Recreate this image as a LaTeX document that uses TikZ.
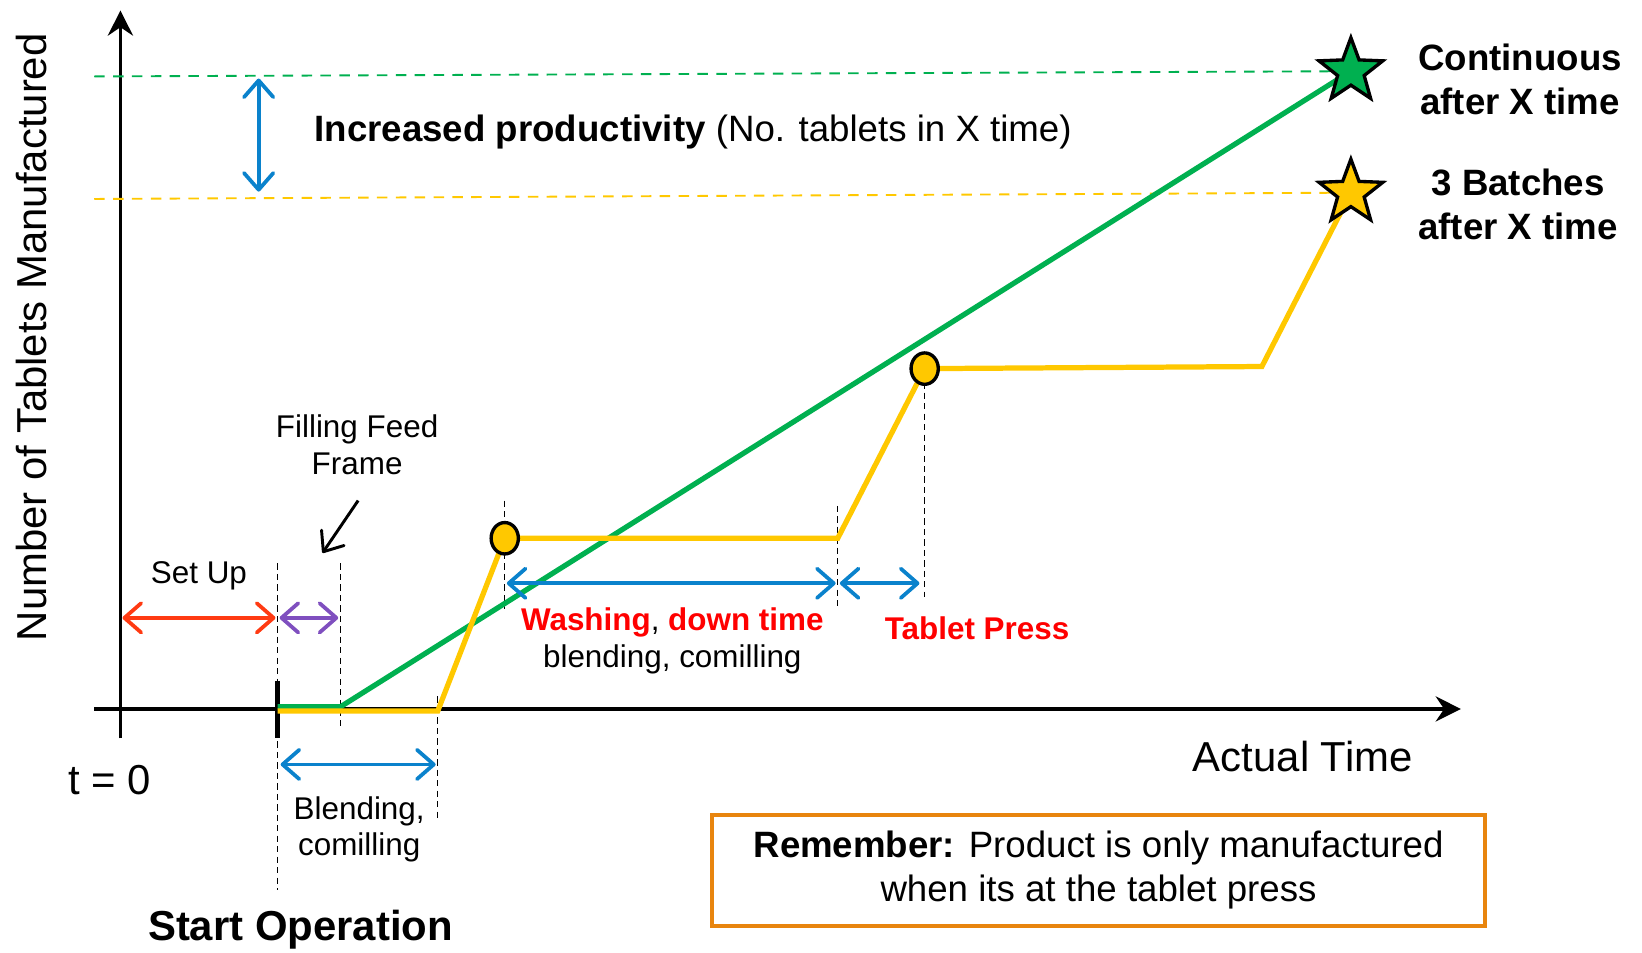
\documentclass[tikz,border=0pt]{standalone}
\usepackage{fontspec}
\setmainfont{Liberation Sans}
\usetikzlibrary{arrows.meta,shapes.geometric}

\definecolor{contgreen}{HTML}{00B050}
\definecolor{batchyellow}{HTML}{FFC800}
\definecolor{stepblue}{HTML}{0A82CC}
\definecolor{setupred}{HTML}{FF3A12}
\definecolor{feedpurple}{HTML}{7F4FBF}
\definecolor{noteorange}{HTML}{E8850E}

\tikzset{
	axis/.style={draw=black, line width=1.7pt, -{Stealth[length=12pt,width=12pt,inset=4pt]}},
	guide/.style={draw=black, line width=0.5pt, dash pattern=on 3pt off 2pt},
	span/.style={line width=1.8pt, {Straight Barb[length=8pt,width=14pt,round]}-{Straight Barb[length=8pt,width=14pt,round]}},
	level/.style={line width=0.9pt, dash pattern=on 5pt off 4pt},
	curve/.style={line width=2.5pt, line join=miter},
	batchdot/.style={ellipse, draw=black, line width=1.6pt, fill=batchyellow, minimum width=13pt, minimum height=15pt, inner sep=0pt},
	endstar/.style={star, star points=5, star point ratio=2.4, draw=black, line width=1.6pt, minimum size=32pt, inner sep=0pt},
	small/.style={font=\fontsize{15}{17.5}\selectfont, align=center, inner sep=0pt},
	big/.style={font=\fontsize{17.5}{21}\selectfont, align=center, inner sep=0pt},
	huge/.style={font=\fontsize{20}{24}\selectfont, align=center, inner sep=0pt}
}

\begin{document}
\begin{tikzpicture}[x=0.5pt, y=-0.5pt]
	\useasboundingbox (0,0) rectangle (1568,910);
	% axes
	\coordinate (ybot) at (115,705);
	\coordinate (ytop) at (115,10);
	\coordinate (xleft) at (90,677);
	\coordinate (xright) at (1395,677);
	\draw[axis] (ybot) -- (ytop);
	\draw[axis] (xleft) -- (xright);
	\node[huge, rotate=90] (ylabel) at (30,322) {Number of Tablets Manufactured};
	\node[huge] (tzero) at (105,745) {t = 0};
	\node[huge] (xlabel) at (1244,722) {Actual Time};
	\node[font=\fontsize{20}{24}\selectfont\bfseries, inner sep=0pt] (start) at (287,888) {Start Operation};

	% key points
	\coordinate (s0) at (265,677);
	\coordinate (feed) at (325,675);
	\coordinate (b1) at (418,679);
	\coordinate (dot1) at (482,514);
	\coordinate (b2) at (800,514);
	\coordinate (dot2) at (883,352);
	\coordinate (b3) at (1205,350);
	\coordinate (gend) at (1290,68);
	\coordinate (yend) at (1290,184);

	% target levels
	\draw[level, contgreen] (90,73) -- (gend);
	\draw[level, batchyellow] (90,190) -- (yend);
	\draw[span, stepblue] (247,75) -- (247,183);
	\node[big, anchor=west] (gain) at (300,126) {\textbf{Increased productivity} (No. tablets in X time)};

	% guides
	\draw[guide] (265,538) -- (265,850);
	\draw[guide] (325,538) -- (325,693);
	\draw[guide] (418,665) -- (418,782);
	\draw[guide] (482,478) -- (482,582);
	\draw[guide] (800,483) -- (800,582);
	\draw[guide] (883,365) -- (883,570);
	\draw[line width=2pt] (265,650) -- (265,705);

	% production curves
	\draw[curve, contgreen] (265,675) -- (feed) -- (gend);
	\draw[curve, batchyellow] (265,679) -- (b1) -- (dot1) -- (b2) -- (dot2) -- (b3) -- (yend);
	\node[batchdot] (press1) at (dot1) {};
	\node[batchdot] (press2) at (dot2) {};
	\node[endstar, fill=contgreen] (gstar) at (gend) {};
	\node[endstar, fill=batchyellow] (ystar) at (yend) {};
	\node[big, font=\fontsize{17.5}{21}\selectfont\bfseries, anchor=west] (conttxt) at (1354,76) {Continuous\\after X time};
	\node[big, font=\fontsize{17.5}{21}\selectfont\bfseries, anchor=west] (batchtxt) at (1354,195) {3 Batches\\after X time};

	% phases
	\node[small] (setup) at (190,550) {Set Up};
	\draw[span, setupred] (117,590) -- (263,590);
	\draw[span, feedpurple] (267,590) -- (323,590);
	\node[small] (filltxt) at (341,425) {Filling Feed\\Frame};
	\coordinate (filltip) at (308,528);
	\draw[line width=1.4pt, -{Straight Barb[length=8pt,width=13pt,round]}] (342,478) -- (filltip);
	\draw[span, stepblue] (268,730) -- (416,730);
	\node[small] (blendtxt) at (343,792) {Blending,\\comilling};
	\draw[span, stepblue] (484,557) -- (798,557);
	\draw[span, stepblue] (802,557) -- (878,557);
	\node[small] (washtxt) at (642,612) {\textcolor{red}{\bfseries Washing}, \textcolor{red}{\bfseries down time}\\blending, comilling};
	\node[small, text=red, font=\fontsize{15}{17.5}\selectfont\bfseries] (presstxt) at (933,600) {Tablet Press};

	% note
	\node[big, draw=noteorange, line width=2pt, minimum width=369pt, minimum height=53pt] (note) at (1049,831) {\textbf{Remember:} Product is only manufactured\\when its at the tablet press};
\end{tikzpicture}
\end{document}
